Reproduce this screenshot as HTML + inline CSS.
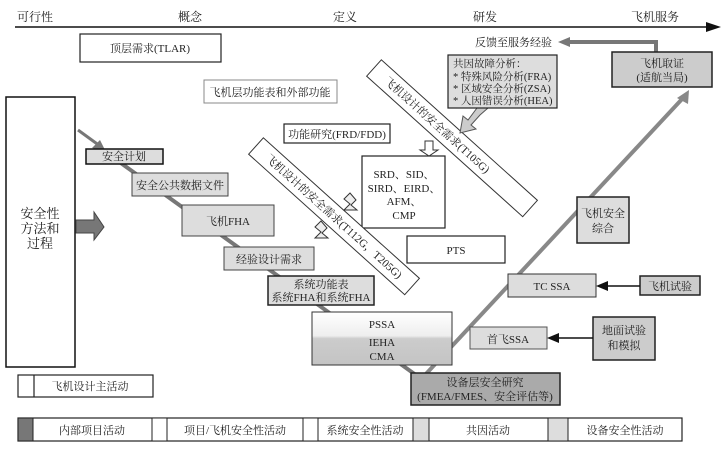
<!DOCTYPE html>
<html><head><meta charset="utf-8"><style>
body{margin:0;background:#fff}
text{font-family:"Liberation Serif","Noto Serif CJK SC","Noto Sans CJK SC",serif;font-size:11px;fill:#222}
</style></head><body>
<svg width="721" height="447" viewBox="0 0 721 447" xmlns="http://www.w3.org/2000/svg">
<defs>
<linearGradient id="g1" x1="0" y1="0" x2="0" y2="1"><stop offset="0" stop-color="#fff"/><stop offset="0.45" stop-color="#eee"/><stop offset="0.5" stop-color="#ccc"/><stop offset="1" stop-color="#c4c4c4"/></linearGradient>
</defs>
<g font-size="12">
<text x="35" y="21" text-anchor="middle" style="font-size:12px">可行性</text>
<text x="190" y="21" text-anchor="middle" style="font-size:12px">概念</text>
<text x="345" y="21" text-anchor="middle" style="font-size:12px">定义</text>
<text x="485" y="21" text-anchor="middle" style="font-size:12px">研发</text>
<text x="655" y="21" text-anchor="middle" style="font-size:12px">飞机服务</text>
</g>
<line x1="15" y1="27" x2="708" y2="27" stroke="#111" stroke-width="1.5"/>
<polygon points="721,27 706,22 706,32" fill="#111"/>

<!-- diagonal lines -->
<line x1="100" y1="148" x2="420" y2="378" stroke="#777" stroke-width="4"/>
<line x1="78" y1="130" x2="100" y2="146" stroke="#777" stroke-width="3"/>
<polygon points="106,152 92,148 100,140" fill="#777"/>
<line x1="425" y1="375" x2="683" y2="98" stroke="#888" stroke-width="4"/>
<polygon points="689,90 677,98 688,104" fill="#888"/>
<polyline points="656,52 656,42 568,42" fill="none" stroke="#777" stroke-width="4"/>
<polygon points="558,42 570,37 570,47" fill="#777"/>

<!-- left big box -->
<rect x="6" y="97" width="69" height="270" fill="#fff" stroke="#111" stroke-width="1.5"/>
<text x="40" y="218" text-anchor="middle" style="font-size:13px">安全性</text>
<text x="40" y="233" text-anchor="middle" style="font-size:13px">方法和</text>
<text x="40" y="248" text-anchor="middle" style="font-size:13px">过程</text>
<polygon points="76,220 94,220 94,212 104,227 94,240 94,233 76,233" fill="#777" stroke="#444"/>

<rect x="80" y="34" width="141" height="28" fill="#fff" stroke="#222" stroke-width="1.2"/>
<text x="150" y="52" text-anchor="middle">顶层需求(TLAR)</text>
<rect x="204" y="80" width="133" height="23" fill="#fff" stroke="#888"/>
<text x="270" y="96" text-anchor="middle">飞机层功能表和外部功能</text>

<rect x="86" y="149" width="77" height="15" fill="#ddd" stroke="#111" stroke-width="1.5"/>
<text x="124" y="160" text-anchor="middle">安全计划</text>
<rect x="132" y="173" width="96" height="23" fill="#ddd" stroke="#444"/>
<text x="180" y="189" text-anchor="middle">安全公共数据文件</text>
<rect x="182" y="205" width="92" height="31" fill="#ddd" stroke="#444"/>
<text x="228" y="225" text-anchor="middle">飞机FHA</text>
<rect x="224" y="247" width="90" height="23" fill="#ddd" stroke="#444"/>
<text x="269" y="263" text-anchor="middle">经验设计需求</text>
<rect x="268" y="276" width="106" height="29" fill="#ddd" stroke="#222" stroke-width="1.5"/>
<text x="321" y="288" text-anchor="middle">系统功能表</text>
<text x="321" y="301" text-anchor="middle">系统FHA和系统FHA</text>
<rect x="312" y="312" width="140" height="53" fill="url(#g1)" stroke="#333"/>
<text x="382" y="328" text-anchor="middle">PSSA</text>
<text x="382" y="346" text-anchor="middle">IEHA</text>
<text x="382" y="360" text-anchor="middle">CMA</text>
<rect x="411" y="373" width="149" height="32" fill="#aaa" stroke="#222" stroke-width="1.5"/>
<text x="485" y="386" text-anchor="middle">设备层安全研究</text>
<text x="485" y="400" text-anchor="middle">(FMEA/FMES、安全评估等)</text>

<rect x="284" y="124" width="106" height="19" fill="#fff" stroke="#222" stroke-width="1.2"/>
<text x="337" y="138" text-anchor="middle">功能研究(FRD/FDD)</text>
<rect x="362" y="156" width="83" height="72" fill="#fff" stroke="#222" stroke-width="1.2"/>
<text x="404" y="178" text-anchor="middle">SRD、SID、</text>
<text x="404" y="192" text-anchor="middle">SIRD、EIRD、</text>
<text x="404" y="205" text-anchor="middle">AFM、</text>
<text x="404" y="219" text-anchor="middle">CMP</text>
<rect x="407" y="236" width="98" height="27" fill="#fff" stroke="#222" stroke-width="1.2"/>
<text x="456" y="254" text-anchor="middle">PTS</text>

<!-- bands -->
<g transform="translate(256,146) rotate(42)">
<rect x="0" y="-11" width="210" height="22" fill="#fff" stroke="#333"/>
<text x="105" y="4" text-anchor="middle">飞机设计的安全需求(T112G，T205G)</text>
</g>
<g transform="translate(374,68) rotate(42)">
<rect x="0" y="-11" width="210" height="22" fill="#fff" stroke="#333"/>
<text x="85" y="4" text-anchor="middle">飞机设计的安全需求(T105G)</text>
</g>
<!-- hollow arrows -->
<polygon points="344,210 350,204 344,199 350,193 356,200 351,205 357,210" fill="#eee" stroke="#333"/>
<polygon points="315,238 321,232 315,227 321,221 327,228 322,233 328,238" fill="#eee" stroke="#333"/>
<polygon points="425,141 433,141 433,150 438,150 429,156 420,150 425,150" fill="#fff" stroke="#333"/>
<polygon points="488,108 477,108 468,120 463,116 460,133 476,129 471,125 480,115" fill="#ccc" stroke="#555"/>

<rect x="448" y="55" width="109" height="53" fill="#ddd" stroke="#222" stroke-width="1.2"/>
<g style="font-size:10.5px">
<text x="453" y="67" style="font-size:10.5px">共因故障分析：</text>
<text x="453" y="80" style="font-size:10.5px">* 特殊风险分析(FRA)</text>
<text x="453" y="92" style="font-size:10.5px">* 区域安全分析(ZSA)</text>
<text x="453" y="104" style="font-size:10.5px">* 人因错误分析(HEA)</text>
</g>
<text x="475" y="46">反馈至服务经验</text>
<rect x="612" y="52" width="100" height="35" fill="#ccc" stroke="#222" stroke-width="1.5"/>
<text x="662" y="67" text-anchor="middle">飞机取证</text>
<text x="662" y="81" text-anchor="middle">(适航当局)</text>

<rect x="577" y="197" width="52" height="46" fill="#ddd" stroke="#222" stroke-width="1.5"/>
<text x="603" y="217" text-anchor="middle">飞机安全</text>
<text x="603" y="232" text-anchor="middle">综合</text>
<rect x="508" y="274" width="88" height="23" fill="#ddd" stroke="#333"/>
<text x="552" y="290" text-anchor="middle">TC SSA</text>
<rect x="640" y="276" width="60" height="19" fill="#ccc" stroke="#222" stroke-width="1.5"/>
<text x="670" y="290" text-anchor="middle">飞机试验</text>
<line x1="640" y1="286" x2="606" y2="286" stroke="#111" stroke-width="1.5"/>
<polygon points="596,286 608,281 608,291" fill="#111"/>
<rect x="470" y="327" width="77" height="22" fill="#ddd" stroke="#555"/>
<text x="508" y="343" text-anchor="middle">首飞SSA</text>
<rect x="593" y="317" width="62" height="43" fill="#ccc" stroke="#222" stroke-width="1.5"/>
<text x="624" y="334" text-anchor="middle">地面试验</text>
<text x="624" y="349" text-anchor="middle">和模拟</text>
<line x1="593" y1="338" x2="557" y2="338" stroke="#111" stroke-width="1.5"/>
<polygon points="547,338 559,333 559,343" fill="#111"/>

<!-- legends -->
<rect x="18" y="375" width="135" height="22" fill="#fff" stroke="#222" stroke-width="1.2"/>
<line x1="34" y1="375" x2="34" y2="397" stroke="#222" stroke-width="1.2"/>
<text x="90" y="390" text-anchor="middle">飞机设计主活动</text>

<rect x="18" y="418" width="664" height="23" fill="#fff" stroke="#222" stroke-width="1.2"/>
<rect x="18" y="418" width="15" height="23" fill="#777" stroke="#222"/>
<rect x="152" y="418" width="15" height="23" fill="#fff" stroke="#222"/>
<rect x="303" y="418" width="15" height="23" fill="#fff" stroke="#222"/>
<rect x="413" y="418" width="16" height="23" fill="#ddd" stroke="#222"/>
<rect x="548" y="418" width="20" height="23" fill="#ddd" stroke="#222"/>
<text x="92" y="434" text-anchor="middle">内部项目活动</text>
<text x="235" y="434" text-anchor="middle">项目/飞机安全性活动</text>
<text x="365" y="434" text-anchor="middle">系统安全性活动</text>
<text x="488" y="434" text-anchor="middle">共因活动</text>
<text x="625" y="434" text-anchor="middle">设备安全性活动</text>
</svg>
</body></html>
